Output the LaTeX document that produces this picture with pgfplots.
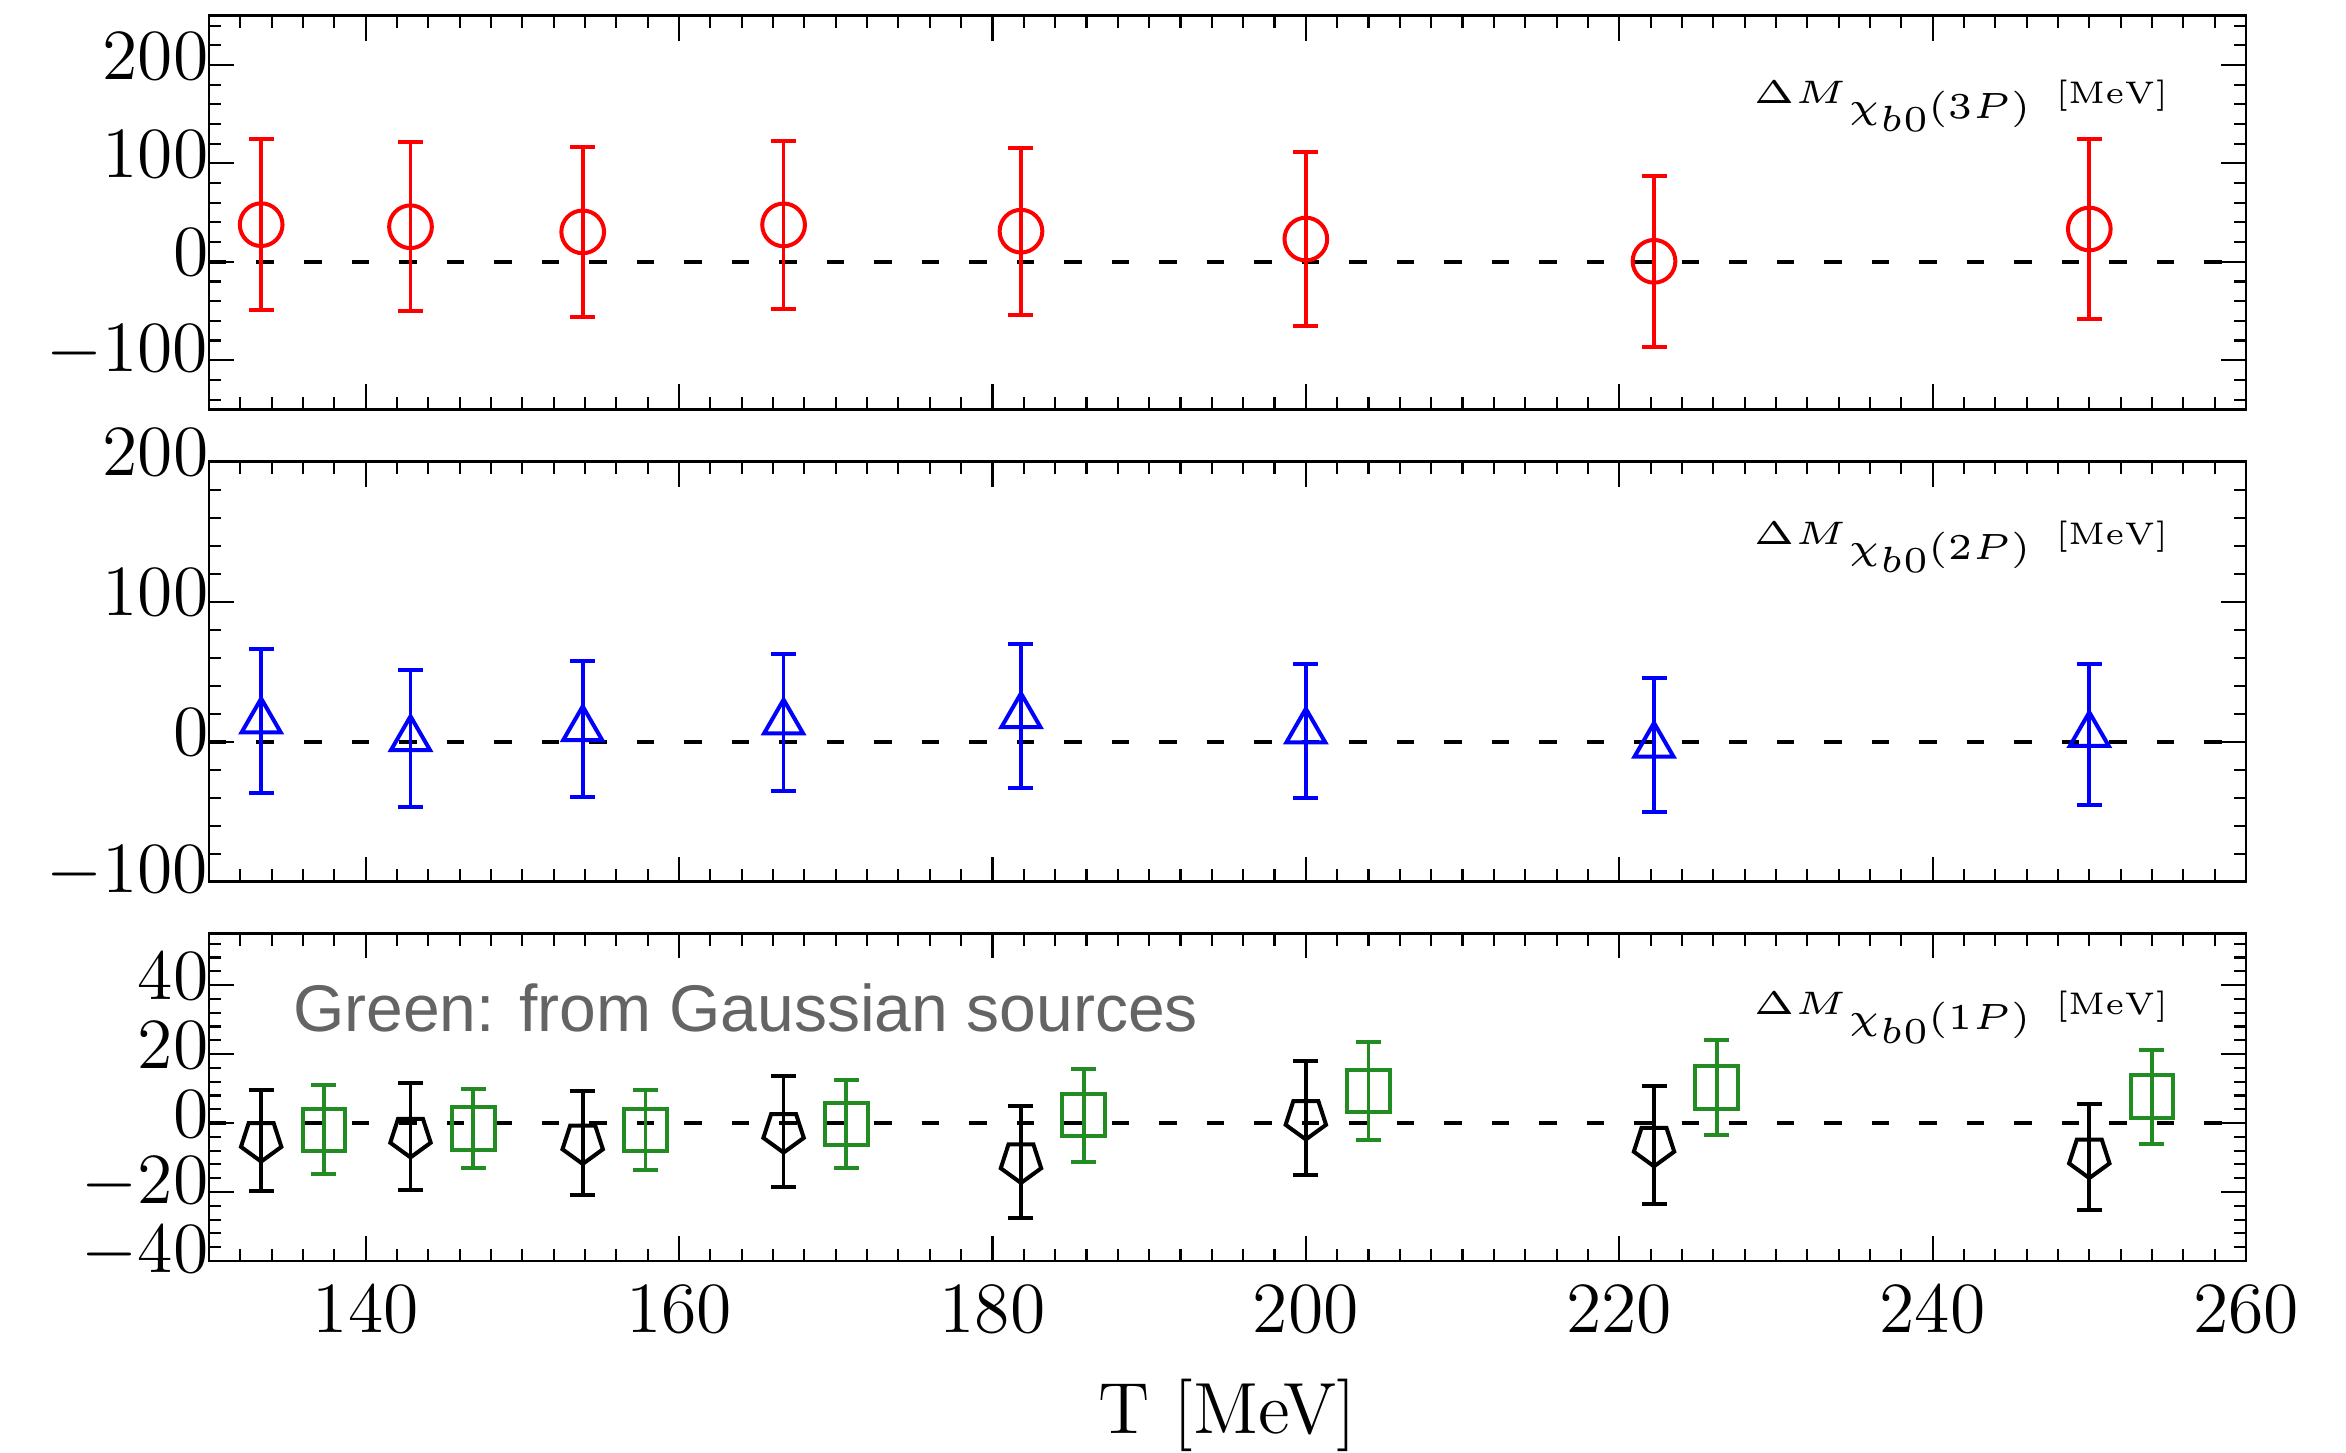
\documentclass[border=0pt]{standalone}
\usepackage[no-math]{fontspec}
\usepackage{graphicx}
\usepackage{pgfplots}
\pgfplotsset{compat=1.18}
\newfontfamily\arialfont{Liberation Sans}
\definecolor{myred}{RGB}{255,0,0}
\definecolor{myblue}{RGB}{0,0,255}
\definecolor{mygreen}{RGB}{34,139,34}
\definecolor{mygray}{RGB}{100,100,100}
\newcommand{\lab}[1]{%
\scalebox{1.5}[1.3]{\fontsize{5}{6}\selectfont$\Delta M$}%
\hspace{0.3pt}\raisebox{-3pt}{\scalebox{1.46}{\fontsize{5}{6}\selectfont$\chi$\raisebox{-1.85pt}{$b0$}$(#1P)$}}%
\hspace{5pt}\scalebox{1.25}{\fontsize{5}{6}\selectfont$[\mathrm{MeV}]$}}
\pgfplotsset{
  panel/.style={
    scale only axis, width=407.4pt, xmin=130, xmax=260,
    anchor=north west,
    axis line style={line width=0.5pt},
    every tick/.style={black, line width=0.42pt},
    major tick length=5pt, minor tick length=2.5pt,
    tick align=inside,
    xtick={140,160,...,260},
    minor xtick={130,132,...,260},
    tick label style={font=\fontsize{14.5}{16}\selectfont},
    yticklabel style={xshift=3.4pt, yshift=1.8pt},
    xticklabel style={yshift=-1.5pt},
  },
  errs/.style={
    only marks,
    line width=0.8pt,
    error bars/.cd, y dir=both, y explicit,
    error bar style={line width=0.75pt, solid},
    error mark options={rotate=90, mark size=2.5pt, line width=0.8pt},
  },
  zeroline/.style={black, line width=0.75pt, dash pattern=on 3.5pt off 6pt, forget plot},
}
\begin{document}
\begin{tikzpicture}
\useasboundingbox (0,0) rectangle (469.2pt,-290.4pt);
% ---------------- top panel: chi_b0(3P)
\begin{axis}[panel, at={(41.8pt,-3.14pt)}, height=78.74pt,
  ymin=-150, ymax=250, ytick={-100,0,100,200}, minor ytick={-140,-120,...,240},
  xticklabels={}]
\addplot[zeroline] coordinates {(130,0) (260,0)};
\addplot[myred, mark=o, mark size=4.27pt, errs] coordinates {
(133.33,37.7) +- (0,87)
(142.86,35.6) +- (0,86)
(153.85,30.4) +- (0,86)
(166.67,37.5) +- (0,85)
(181.82,31.1) +- (0,85)
(200.00,23.1) +- (0,88)
(222.22,0.5) +- (0,87)
(250.00,33.3) +- (0,91)
};
\node[anchor=base east, inner sep=0] at (axis cs:255.1,161) {\lab{3}};
\end{axis}
% ---------------- middle panel: chi_b0(2P)
\begin{axis}[panel, at={(41.8pt,-92.34pt)}, height=84pt,
  ymin=-100, ymax=200, ytick={-100,0,100,200}, minor ytick={-100,-80,...,200},
  xticklabels={}]
\addplot[zeroline] coordinates {(130,0) (260,0)};
\addplot[myblue, mark=triangle, mark size=4.5pt, errs] coordinates {
(133.33,14.8) +- (0,51.7)
(142.86,2.1) +- (0,49.0)
(153.85,9.2) +- (0,48.7)
(166.67,14.0) +- (0,49.0)
(181.82,18.5) +- (0,51.3)
(200.00,7.5) +- (0,47.7)
(222.22,-2.6) +- (0,47.9)
(250.00,5.0) +- (0,50.2)
};
\node[anchor=base east, inner sep=0] at (axis cs:255.1,141) {\lab{2}};
\end{axis}
% ---------------- bottom panel: chi_b0(1P)
\begin{axis}[panel, at={(41.8pt,-186.66pt)}, height=65.54pt,
  ymin=-40, ymax=55, ytick={-40,-20,0,20,40}, minor ytick={-40,-36,...,52},
  xlabel={T [MeV]},
  xlabel style={font=\fontsize{14.5}{16}\selectfont, at={(axis description cs:0.5,0)}, anchor=north, yshift=-20pt}]
\addplot[zeroline] coordinates {(130,0) (260,0)};
\addplot[black, mark=pentagon, mark size=4.25pt, mark options={rotate=180}, errs] coordinates {
(133.33,-5.0) +- (0,14.6)
(142.86,-3.8) +- (0,15.5)
(153.85,-5.7) +- (0,15.1)
(166.67,-2.4) +- (0,16.1)
(181.82,-11.2) +- (0,16.2)
(200.00,1.4) +- (0,16.6)
(222.22,-6.4) +- (0,17.1)
(250.00,-9.8) +- (0,15.4)
};
\addplot[mygreen, mark=square, mark size=4.27pt, errs] coordinates {
(137.33,-2.0) +- (0,12.9)
(146.86,-1.6) +- (0,11.5)
(157.85,-2.0) +- (0,11.5)
(170.67,-0.3) +- (0,12.8)
(185.82,2.3) +- (0,13.5)
(204.00,9.3) +- (0,14.1)
(226.22,10.3) +- (0,13.8)
(254.00,7.6) +- (0,13.6)
};
\node[anchor=base east, inner sep=0] at (axis cs:255.1,31.4) {\lab{1}};
\node[anchor=base west, inner sep=0, text=mygray, font=\arialfont\fontsize{13.2}{15}\selectfont] at (axis cs:135.3,26.6) {Green: from Gaussian sources};
\end{axis}
\end{tikzpicture}
\end{document}
